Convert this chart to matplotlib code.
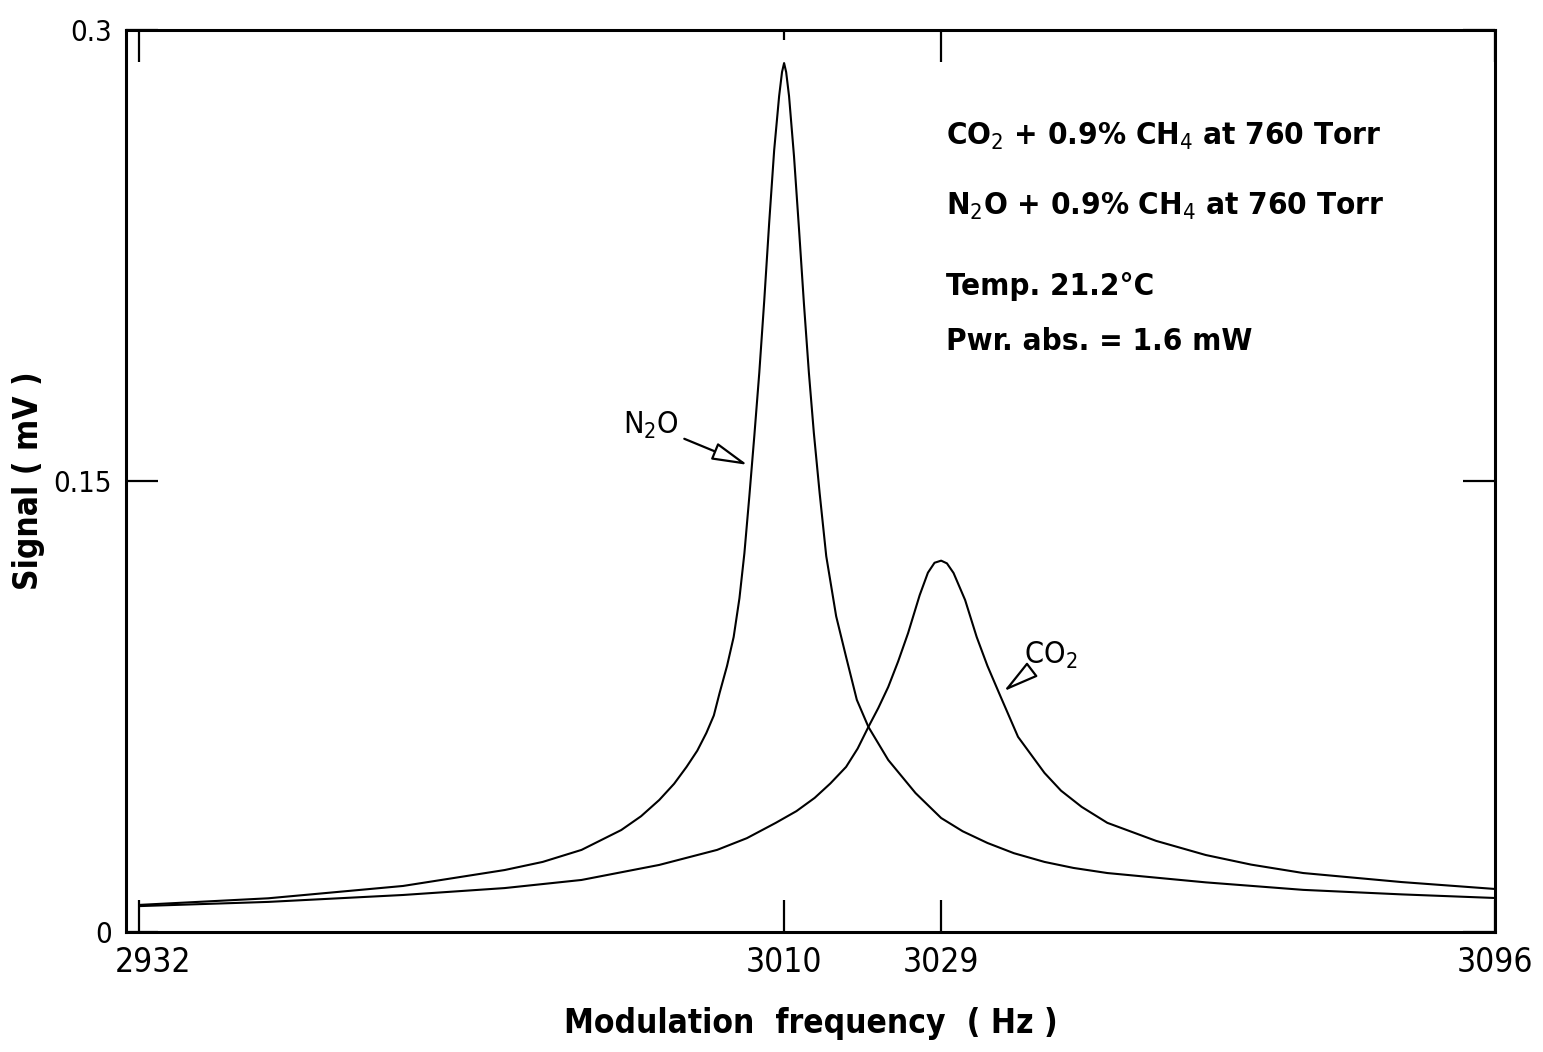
import matplotlib
matplotlib.use("Agg")
import matplotlib.pyplot as plt
from matplotlib.transforms import ScaledTranslation

plt.rcParams['font.family'] = ['DejaVu Sans']
plt.rcParams['font.stretch'] = 'condensed'

# N2O trace (frequency in Hz, signal in mV)
n2o_freq = [2932.0, 2947.6, 2963.9, 2976.2, 2980.8, 2985.5, 2990.3, 2992.7,
            2994.9, 2996.7, 2998.2, 2999.5, 3000.6, 3001.5, 3002.2, 3003.1,
            3003.9, 3004.6, 3005.2, 3005.8, 3006.4, 3007.0, 3007.6, 3008.2,
            3008.8, 3009.4, 3009.75, 3010.0, 3010.25, 3010.6, 3011.2, 3011.8,
            3012.4, 3013.0, 3013.6, 3014.3, 3015.1, 3016.3, 3017.5, 3018.8,
            3020.2, 3022.6, 3025.9, 3029.0, 3031.6, 3034.6, 3037.8, 3041.5,
            3045.0, 3049.1, 3061.0, 3072.8, 3084.7, 3096.0]
n2o_sig = [0.0090, 0.0112, 0.0153, 0.0206, 0.0233, 0.0273, 0.0339, 0.0385,
           0.0439, 0.0493, 0.0549, 0.0603, 0.0662, 0.0720, 0.0795, 0.0885,
           0.0981, 0.1110, 0.1260, 0.1450, 0.1650, 0.1860, 0.2100, 0.2360,
           0.2600, 0.2780, 0.2860, 0.2890, 0.2860, 0.2780, 0.2580, 0.2340,
           0.2090, 0.1860, 0.1660, 0.1460, 0.1250, 0.1050, 0.0915, 0.0772,
           0.0682, 0.0572, 0.0462, 0.0379, 0.0335, 0.0296, 0.0262, 0.0233,
           0.0213, 0.0196, 0.0165, 0.0140, 0.0125, 0.0113]

# CO2 trace
co2_freq = [2932.0, 2947.6, 2963.9, 2976.2, 2985.5, 2994.9, 3001.9, 3005.5,
            3009.0, 3011.5, 3013.7, 3015.6, 3017.5, 3018.9, 3020.2, 3021.4,
            3022.6, 3023.8, 3025.0, 3026.4, 3027.4, 3028.2, 3029.0, 3029.7,
            3030.5, 3031.9, 3033.3, 3034.6, 3036.0, 3038.3, 3041.5, 3043.5,
            3046.0, 3049.1, 3055.0, 3061.0, 3066.5, 3072.8, 3084.7, 3096.0]
co2_sig = [0.0086, 0.0100, 0.0123, 0.0146, 0.0173, 0.0223, 0.0273, 0.0312,
           0.0363, 0.0402, 0.0446, 0.0494, 0.0549, 0.0610, 0.0682, 0.0745,
           0.0815, 0.0900, 0.0994, 0.1120, 0.1195, 0.1228, 0.1235, 0.1226,
           0.1194, 0.1104, 0.0981, 0.0885, 0.0795, 0.0649, 0.0529, 0.0470,
           0.0416, 0.0363, 0.0303, 0.0256, 0.0224, 0.0196, 0.0166, 0.0143]

x_ticks = [2932, 3010, 3029, 3096]
x_ticklabels = ['2932', '3010', '3029', '3096']
y_ticks = [0, 0.15, 0.3]
y_ticklabels = ['0', '0.15', '0.3']

fig = plt.figure(figsize=(15.43, 10.52), dpi=100)
ax = fig.add_axes([0.0817, 0.1141, 0.8872, 0.8574])

ax.plot(n2o_freq, n2o_sig, color='black', lw=1.5)
ax.plot(co2_freq, co2_sig, color='black', lw=1.5)

ax.set_xlim(2930.4, 3096)
ax.set_ylim(0, 0.3)

for s in ax.spines.values():
    s.set_linewidth(2.2)

ax.set_xticks(x_ticks)
ax.set_xticklabels(x_ticklabels)
ax.set_yticks(y_ticks)
ax.set_yticklabels(y_ticklabels)
ax.tick_params(axis='both', direction='in', length=23, width=1.6,
               top=True, right=True)
ax.tick_params(axis='x', labelsize=24, pad=10)
ax.tick_params(axis='y', labelsize=21, pad=10)
# the 3010 tick on the top edge is only a short stub
ax.xaxis.get_major_ticks()[1].tick2line.set_markersize(7)
# nudge the first x label right so it clears the "0"
lbl = ax.xaxis.get_major_ticks()[0].label1
lbl.set_transform(lbl.get_transform() + ScaledTranslation(10 / 72, 0, fig.dpi_scale_trans))

ax.set_xlabel('Modulation  frequency  ( Hz )', fontsize=24,
              fontweight='bold', labelpad=20)
ax.set_ylabel('Signal ( mV )', fontsize=24, fontweight='bold',
              labelpad=6)

arrow = dict(arrowstyle='-|>,head_length=1.0,head_width=0.25',
             facecolor='white', edgecolor='black', lw=1.6)
ax.annotate('N$_2$O', xy=(3005.9, 0.155), xytext=(2993.9, 0.1686),
            fontsize=22, ha='center', va='center', arrowprops=arrow)
ax.annotate('CO$_2$', xy=(3036.3, 0.0795), xytext=(3042.3, 0.0921),
            fontsize=22, ha='center', va='center', arrowprops=arrow)

info = [
    (0.882, r'CO$_2$ + 0.9% CH$_4$ at 760 Torr'),
    (0.804, r'N$_2$O + 0.9% CH$_4$ at 760 Torr'),
    (0.716, 'Temp. 21.2°C'),
    (0.655, 'Pwr. abs. = 1.6 mW'),
]
for yy, txt in info:
    ax.text(0.599, yy, txt, transform=ax.transAxes, fontsize=22.5,
            fontweight='bold', ha='left', va='center')

fig.savefig('out.png', dpi=100)
